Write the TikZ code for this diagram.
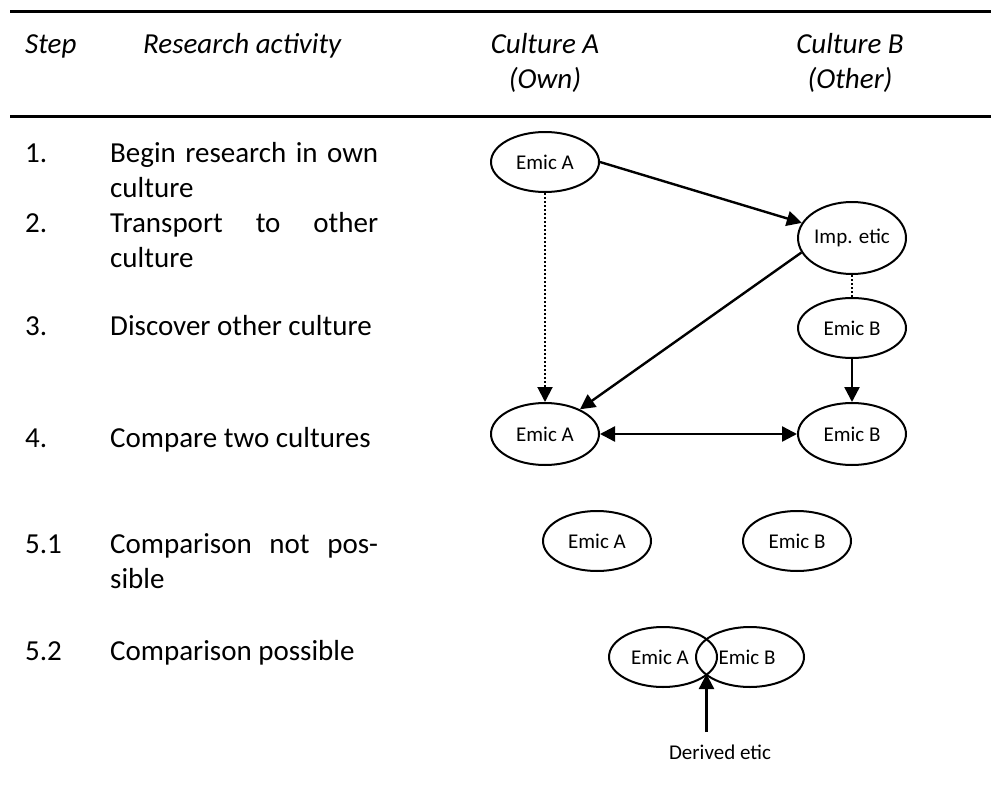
\documentclass[tikz,border=0pt]{standalone}
\usepackage{fontspec}
\setmainfont{Carlito}
\usetikzlibrary{shapes.geometric,arrows.meta}
\newcommand\fullline[1]{\makebox[268pt][s]{#1}}
\begin{document}
\begin{tikzpicture}[x=1pt,y=-1pt,
  body/.style={anchor=base west,inner sep=0pt,font=\fontsize{29}{35}\selectfont},
  head/.style={anchor=base,inner sep=0pt,font=\fontsize{29}{35}\selectfont\itshape},
  blob/.style={ellipse,draw,line width=2pt,minimum width=108pt,minimum height=60pt,
    inner sep=0pt,font=\fontsize{21}{25}\selectfont},
  small/.style={inner sep=0pt,font=\fontsize{21}{25}\selectfont},
  link/.style={line width=2.4pt},
  tipped/.style={-{Triangle[length=15pt,width=15pt]}},
  twotips/.style={{Triangle[length=15pt,width=15pt]}-{Triangle[length=15pt,width=15pt]}},
  rule/.style={line width=3pt}]
\useasboundingbox (0,0) rectangle (991,787);

% table rules
\coordinate (r1a) at (10,11);  \coordinate (r1b) at (991,11);
\coordinate (r2a) at (10,116); \coordinate (r2b) at (991,116);
\draw[rule] (r1a) -- (r1b);
\draw[rule] (r2a) -- (r2b);

% column heads
\node[head,anchor=base west] (hstep) at (25,53) {Step};
\node[head,anchor=base west] (hact) at (143,53) {Research activity};
\node[head] (hA1) at (545,53) {Culture A};
\node[head] (hA2) at (545,88) {(Own)};
\node[head] (hB1) at (850,53) {Culture B};
\node[head] (hB2) at (850,88) {(Other)};

% steps and activities
\node[body] (n1) at (25,162) {1.};
\node[body] (t1a) at (110,162) {\fullline{Begin research in own}};
\node[body] (t1b) at (110,197) {culture};
\node[body] (n2) at (25,232) {2.};
\node[body] (t2a) at (110,232) {\fullline{Transport to other}};
\node[body] (t2b) at (110,267) {culture};
\node[body] (n3) at (25,335) {3.};
\node[body] (t3) at (110,335) {Discover other culture};
\node[body] (n4) at (25,447) {4.};
\node[body] (t4) at (110,447) {Compare two cultures};
\node[body] (n51) at (25,553) {5.1};
\node[body] (t51a) at (110,553) {\fullline{Comparison not pos-}};
\node[body] (t51b) at (110,588) {sible};
\node[body] (n52) at (25,660) {5.2};
\node[body] (t52) at (110,660) {Comparison possible};

% emic / etic constructs
\node[blob] (eA1) at (545,162) {Emic A};
\node[blob,minimum height=72pt] (imp) at (852,238) {Imp. etic};
\node[blob] (eB3) at (852,328) {Emic B};
\node[blob,minimum height=62pt] (eA4) at (545,434) {Emic A};
\node[blob,minimum height=62pt] (eB4) at (852,434) {Emic B};
\node[blob] (eA5) at (597,541) {Emic A};
\node[blob] (eB5) at (797,541) {Emic B};
\node[blob] (eA6) at (663,657) {\hspace*{-6pt}Emic A};
\node[blob] (eB6) at (750,657) {\hspace*{-6pt}Emic B};
\node[small] (der) at (720,752) {Derived etic};
\coordinate (meet) at (706.5,674);
\coordinate (dtail) at (706.5,732);

% connectors
\draw[link,tipped] (eA1.east) -- (imp);
\draw[link,tipped] (imp.196) -- (eA4);
\draw[line width=2pt,dotted,tipped] (eA1) -- (eA4);
\draw[line width=2pt,dotted] (imp) -- (eB3);
\draw[link,tipped] (eB3) -- (eB4);
\draw[link,twotips] (eA4) -- (eB4);
\draw[link,tipped] (dtail) -- (meet);
\end{tikzpicture}
\end{document}
